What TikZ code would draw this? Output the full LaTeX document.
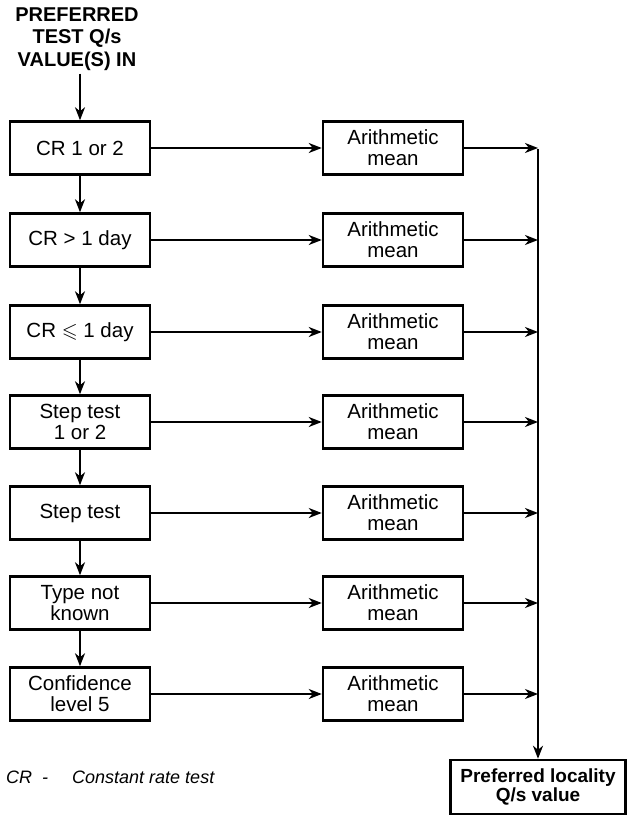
\documentclass[tikz,border=0pt]{standalone}
\usepackage{amssymb}
\usepackage{fontspec}
\setmainfont{Liberation Sans}
\usetikzlibrary{arrows.meta}
\begin{document}
\begin{tikzpicture}[x=1pt,y=-1pt,
  box/.style={draw, line width=2.5pt, minimum width=140pt, minimum height=53pt,
    align=center, inner sep=0pt, font=\fontsize{20.5}{21}\selectfont},
  resbox/.style={draw, line width=2.5pt, minimum width=175pt, minimum height=54pt,
    align=center, inner sep=0pt, font=\fontsize{19}{19.5}\selectfont\bfseries},
  flow/.style={line width=1.8pt, -{Stealth[length=13pt,width=10pt,inset=4pt]}},
  legend/.style={anchor=base west, inner sep=0pt, font=\fontsize{18}{20}\selectfont\itshape}]
\useasboundingbox (0,0) rectangle (632,816);

% heading
\node[align=center, inner sep=0pt, font=\fontsize{20}{22.5}\selectfont\bfseries]
  (title) at (77,39) {PREFERRED\\TEST Q/s\\VALUE(S) IN};

% left column: test types
\node[box] (l1) at (80,148) {CR 1 or 2};
\node[box] (l2) at (80,240) {CR > 1 day};
\node[box] (l3) at (80,332) {CR $\leqslant$ 1 day};
\node[box] (l4) at (80,422) {Step test\\1 or 2};
\node[box] (l5) at (80,513) {Step test};
\node[box] (l6) at (80,603) {Type not\\known};
\node[box] (l7) at (80,694) {Confidence\\level 5};

% middle column: averaging
\foreach \i/\y in {1/148,2/240,3/332,4/422,5/513,6/603,7/694}
  \node[box] (m\i) at (393,\y) {Arithmetic\\mean};

% result
\node[resbox] (res) at (538,787) {Preferred locality\\Q/s value};
\coordinate (trunktop) at (538,149);
\coordinate (titlefoot) at ([yshift=-3pt]title.south -| l1.north);

% connectors
\draw[flow] (titlefoot) -- (l1.north);
\foreach \a/\b in {1/2,2/3,3/4,4/5,5/6,6/7}
  \draw[flow] (l\a.south) -- (l\b.north);
\foreach \i in {1,...,7}{
  \draw[flow] (l\i.east) -- (m\i.west);
  \draw[flow] (m\i.east) -- (m\i.east -| trunktop);
}
\draw[flow] (trunktop) -- (res.north);

% legend
\node[legend] (legcr) at (6,783) {CR};
\node[legend] (legdash) at (42,783) {-};
\node[legend] (legtxt) at (72,783) {Constant rate test};
\end{tikzpicture}
\end{document}
